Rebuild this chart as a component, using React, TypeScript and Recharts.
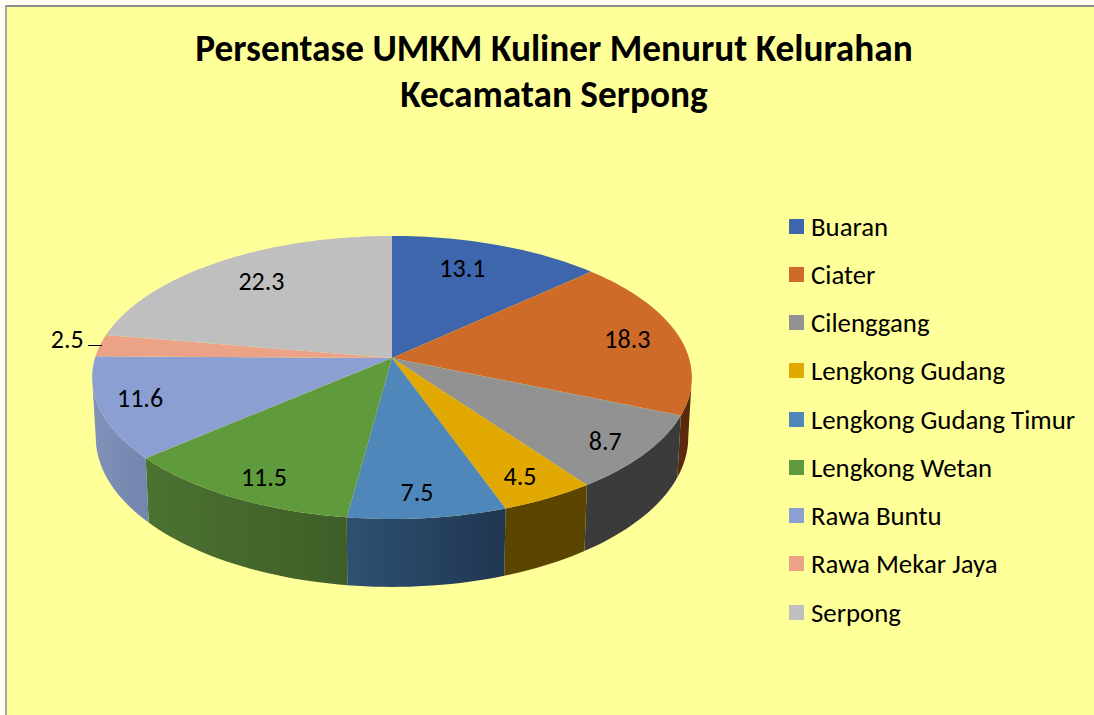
import { Legend, Pie, PieChart } from 'recharts';

const kelurahan = [
  'Buaran',
  'Ciater',
  'Cilenggang',
  'Lengkong Gudang',
  'Lengkong Gudang Timur',
  'Lengkong Wetan',
  'Rawa Buntu',
  'Rawa Mekar Jaya',
  'Serpong',
];
const persen = [13.1, 18.3, 8.7, 4.5, 7.5, 11.5, 11.6, 2.5, 22.3];
const warna = ['#3d66ad', '#cf6b28', '#929292', '#e0a800', '#4f87ba', '#5f9a3c', '#8b9fd2', '#eba287', '#bfbfbf'];
const warnaSisiKiri = ['#243d68', '#5a2a0e', '#3b3b3b', '#5c4500', '#2f5172', '#4b7231', '#8292ba', '#8c5f4f', '#707070'];
const warnaSisiKanan = ['#243d68', '#5a2a0e', '#3b3b3b', '#5c4500', '#1f3650', '#3f5e28', '#7384ad', '#8c5f4f', '#707070'];
// jarak label dari pusat (relatif terhadap jari-jari) dan geseran kecil dalam piksel
const jarakLabel = [0.75, 0.82, 0.86, 0.86, 0.86, 0.86, 0.86, 1.12, 0.765];
const geserX = [-11, 0, -2, -4, -5, 7, -2, 2, 5];
const geserY = [-3, 0, 2, 0, -1, 2, -3, -5, -2];

const data = kelurahan.map((name, i) => ({ name, value: persen[i], fill: warna[i] }));

const FONT = 'Carlito, Calibri, Lato, sans-serif';
const TILT = 0.1376; // perspektif: bagian belakang pie tampak lebih pendek
const RX = 0.99; // lebar elips terhadap outerRadius
const RY = 0.4627;
const DEPTH = 58.6;
const BOTTOM_SCALE = 0.988;

function rad(deg: number) {
  return (deg * Math.PI) / 180;
}

// Proyeksi titik di bidang pie (r relatif 0..1) ke layar
function project(cx: number, cy: number, R: number, deg: number, r: number) {
  const u = r * Math.cos(rad(deg));
  const v = r * Math.sin(rad(deg));
  const w = 1 + TILT * v;
  return { x: cx + (R * RX * u) / w, y: cy - (R * RY * v) / w, v, w };
}

function sampleArc(from: number, to: number) {
  const n = Math.max(2, Math.ceil(Math.abs(to - from) / 1.5));
  const out: number[] = [];
  for (let i = 0; i <= n; i++) out.push(from + ((to - from) * i) / n);
  return out;
}

function Slice3D(props: any) {
  const { cx, cy, outerRadius, startAngle, endAngle, index, fill } = props;
  const top = sampleArc(startAngle, endAngle).map(a => project(cx, cy, outerRadius, a, 1));
  const topPath =
    `M${cx},${cy} ` + top.map(p => `L${p.x.toFixed(2)},${p.y.toFixed(2)}`).join(' ') + ' Z';

  // sisi hanya terlihat di bagian depan pie
  const front = sampleArc(startAngle, endAngle).filter(a => Math.sin(rad(a)) < -0.12);
  let wall = null;
  if (front.length > 1) {
    const upper = front.map(a => project(cx, cy, outerRadius, a, 1));
    const lower = upper
      .map(p => ({
        x: cx + (p.x - cx) * BOTTOM_SCALE,
        y: p.y + DEPTH / p.w,
      }))
      .reverse();
    const wallPath =
      'M' + [...upper, ...lower].map(p => `${p.x.toFixed(2)},${p.y.toFixed(2)}`).join(' L') + ' Z';
    wall = (
      <>
        <defs>
          <linearGradient id={`sisi-${index}`} x1="0" y1="0" x2="1" y2="0">
            <stop offset="0%" stopColor={warnaSisiKiri[index]} />
            <stop offset="100%" stopColor={warnaSisiKanan[index]} />
          </linearGradient>
        </defs>
        <path d={wallPath} fill={`url(#sisi-${index})`} />
      </>
    );
  }

  return (
    <g>
      {wall}
      <path d={topPath} fill={fill} />
    </g>
  );
}

function renderLabel(props: any) {
  const { cx, cy, outerRadius, midAngle, value, index } = props;
  const p = project(cx, cy, outerRadius, midAngle, jarakLabel[index]);
  return (
    <g key={index}>
      {index === 7 && <line x1={88} y1={345.5} x2={102} y2={345.5} stroke="#000" strokeWidth={1} />}
      <text
        x={p.x + geserX[index]}
        y={p.y + geserY[index]}
        textAnchor="middle"
        dominantBaseline="central"
        fontFamily={FONT}
        fontSize={26}
        fill="#000"
      >
        {value}
      </text>
    </g>
  );
}

function renderLegend(props: any) {
  const { payload } = props;
  return (
    <div style={{ fontFamily: FONT, fontSize: 26.8, color: '#000', letterSpacing: 0 }}>
      {(payload || []).map((entry: any) => (
        <div key={entry.value} style={{ height: 48.25, display: 'flex', alignItems: 'center', whiteSpace: 'nowrap' }}>
          <span style={{ width: 15, height: 15, background: entry.color, marginRight: 7, flex: 'none' }} />
          {entry.value}
        </div>
      ))}
    </div>
  );
}

export default function App() {
  return (
    <div style={{ position: 'absolute', left: 0, top: 0, width: 1094, height: 715, background: '#fffff4', overflow: 'hidden' }}>
      <div
        style={{
          position: 'absolute',
          left: 5,
          top: 5,
          width: 1089,
          height: 710,
          boxSizing: 'border-box',
          background: '#ffff99',
          borderTop: '2px solid #8f8f8f',
          borderLeft: '2px solid #a6a6a6',
        }}
      />
      <div style={{ position: 'absolute', left: 0, top: 0 }}>
        <PieChart width={1094} height={715} margin={{ top: 0, right: 0, bottom: 0, left: 0 }}>
          <text x={554} y={61} textAnchor="middle" fontFamily={FONT} fontWeight={700} fontSize={37.3} fill="#000">
            Persentase UMKM Kuliner Menurut Kelurahan
          </text>
          <text x={554} y={107} textAnchor="middle" fontFamily={FONT} fontWeight={700} fontSize={37.3} fill="#000">
            Kecamatan Serpong
          </text>
          <Pie
            data={data}
            dataKey="value"
            nameKey="name"
            cx={392}
            cy={358}
            outerRadius={300}
            startAngle={90}
            endAngle={-270}
            stroke="none"
            shape={Slice3D}
            label={renderLabel}
            labelLine={false}
            isAnimationActive={false}
          />
          <Legend
            layout="vertical"
            align="right"
            verticalAlign="top"
            content={renderLegend}
            wrapperStyle={{ left: 789, top: 202, width: 300 }}
          />
        </PieChart>
      </div>
    </div>
  );
}
